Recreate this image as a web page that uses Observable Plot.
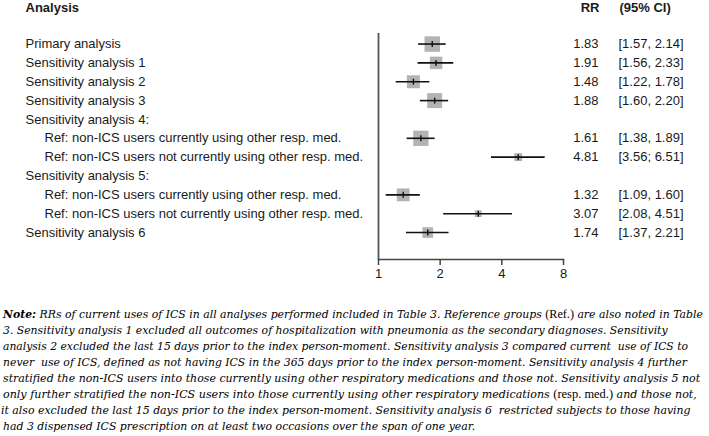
<!DOCTYPE html>
<html><head><meta charset="utf-8">
<script src="https://cdn.jsdelivr.net/npm/d3@7"></script>
<script src="https://cdn.jsdelivr.net/npm/@observablehq/plot@0.6"></script>
<style>
body{margin:0;background:#fff;}
#chart svg{display:block}
</style></head><body><div id="chart"></div><script>
// ---- data ----
const labels = [
  "Primary analysis",
  "Sensitivity analysis 1",
  "Sensitivity analysis 2",
  "Sensitivity analysis 3",
  "Sensitivity analysis 4:",
  "Ref: non-ICS users currently using other resp. med.",
  "Ref: non-ICS users not currently using other resp. med.",
  "Sensitivity analysis 5:",
  "Ref: non-ICS users currently using other resp. med.",
  "Ref: non-ICS users not currently using other resp. med.",
  "Sensitivity analysis 6"
];
const rr    = [1.83, 1.91, 1.48, 1.88, null, 1.61, 4.81, null, 1.32, 3.07, 1.74];
const lower = [1.57, 1.56, 1.22, 1.60, null, 1.38, 3.56, null, 1.09, 2.08, 1.37];
const upper = [2.14, 2.33, 1.78, 2.20, null, 1.89, 6.51, null, 1.60, 4.51, 2.21];
const ciLabels = ["[1.57, 2.14]", "[1.56, 2.33]", "[1.22, 1.78]", "[1.60, 2.20]", "",
  "[1.38, 1.89]", "[3.56; 6.51]", "", "[1.09, 1.60]", "[2.08, 4.51]", "[1.37, 2.21]"];
const weights = [240, 156, 169, 225, null, 234, 62, null, 165, 45, 113];
const xTicks = [1, 2, 4, 8];
const headers = {analysis: "Analysis", rr: "RR", ci: "(95% CI)"};

const noteLines = [
  [["Note:", "b"], [" RRs of current uses of ICS in all analyses performed included in Table 3. Reference groups ", "i"], ["(Ref.)", "n"], [" are also noted in Table", "i"]],
  [["3. Sensitivity analysis 1 excluded all outcomes of hospitalization with pneumonia as the secondary diagnoses. Sensitivity", "i"]],
  [["analysis 2 excluded the last 15 days prior to the index person-moment. Sensitivity analysis 3 compared current  use of ICS to", "i"]],
  [["never  use of ICS, defined as not having ICS in the 365 days prior to the index person-moment. Sensitivity analysis 4 further", "i"]],
  [["stratified the non-ICS users into those currently using other respiratory medications and those not. Sensitivity analysis 5 not", "i"]],
  [["only further stratified the non-ICS users into those currently using other respiratory medications ", "i"], ["(resp. med.)", "n"], [" and those not,", "i"]],
  [["it also excluded the last 15 days prior to the index person-moment. Sensitivity analysis 6  restricted subjects to those having", "i"]],
  [["had 3 dispensed ICS prescription on at least two occasions over the span of one year.", "i"]]
];

// ---- build table ----
const rows = labels.map((label, i) => ({
  i, label, sub: label.startsWith("Ref:"),
  rr: rr[i], lo: lower[i], hi: upper[i], ci: ciLabels[i], w: weights[i]
}));
const est = rows.filter(d => d.rr != null);

const vbar = {draw(ctx, size) { const h = Math.sqrt(size / Math.PI); ctx.moveTo(0, -h); ctx.lineTo(0, h); }};
const ink = "#1a1a1a";

const plot = Plot.plot({
  width: 709, height: 290,
  marginLeft: 378, marginRight: 146, marginTop: 33, marginBottom: 31,
  style: {fontFamily: "'Liberation Sans', Arial, sans-serif", fontSize: "13px", color: ink, background: "#fff", overflow: "visible"},
  x: {type: "log", base: 2, domain: [1, 8]},
  y: {domain: [-0.56, 11.43], reverse: true, axis: null},
  r: {type: "sqrt", domain: [0, 256], range: [0, 16 / Math.sqrt(Math.PI)]},
  marks: [
    Plot.ruleX([1], {stroke: "#555", strokeWidth: 1.8}),
    Plot.frame({anchor: "bottom", stroke: "#444", strokeWidth: 1.5}),
    Plot.axisX({ticks: xTicks, tickFormat: d => String(d), tickSize: 6, tickPadding: 3, fontSize: 13, stroke: "#444", strokeWidth: 1.5, fill: ink}),
    Plot.dot(est, {x: "rr", y: "i", r: "w", symbol: "square", fill: "#b3b3b3", stroke: null}),
    Plot.ruleY(est, {y: "i", x1: "lo", x2: "hi", stroke: "#111", strokeWidth: 1.6}),
    Plot.dot(est, {x: "rr", y: "i", r: 3, symbol: vbar, stroke: "#111", strokeWidth: 1.4, fill: "none"}),
    Plot.text(rows.filter(d => !d.sub), {y: "i", text: "label", frameAnchor: "left", textAnchor: "start", dx: -353, fill: ink}),
    Plot.text(rows.filter(d => d.sub), {y: "i", text: "label", frameAnchor: "left", textAnchor: "start", dx: -334, fill: ink}),
    Plot.text(est, {y: "i", text: d => d.rr.toFixed(2), frameAnchor: "right", textAnchor: "end", dx: 35, fill: ink}),
    Plot.text(est, {y: "i", text: "ci", frameAnchor: "right", textAnchor: "start", dx: 55, fill: ink}),
    Plot.text([headers.analysis], {text: d => d, frameAnchor: "top-left", textAnchor: "start", lineAnchor: "middle", dx: -353, dy: -26, fontWeight: "bold", fill: ink}),
    Plot.text([headers.rr], {text: d => d, frameAnchor: "top-right", textAnchor: "end", lineAnchor: "middle", dx: 36, dy: -26, fontWeight: "bold", fill: ink}),
    Plot.text([headers.ci], {text: d => d, frameAnchor: "top-right", textAnchor: "start", lineAnchor: "middle", dx: 56, dy: -26, fontWeight: "bold", fill: ink})
  ]
});
document.getElementById("chart").append(plot);

// ---- note ----
const noteStart = [3, 3, 3, 3, 3, 3, 1, 3];
const noteEnd = [703, 668, 688, 687, 700, 697, 691, 475];
const note = d3.select("#chart").append("svg")
  .attr("width", 709).attr("height", 146)
  .style("font-family", "'DejaVu Serif', 'Liberation Serif', serif")
  .style("font-size", "11.6px");
noteLines.forEach((segs, k) => {
  const t = note.append("text").attr("fill", "#000").attr("xml:space", "preserve").style("white-space", "pre");
  segs.forEach(([s, st]) => {
    const ts = t.append("tspan").text(s)
      .attr("font-style", st === "n" ? "normal" : "italic")
      .attr("font-weight", st === "b" ? "bold" : "normal");
    if (st === "n") ts.attr("font-family", "'Liberation Serif', serif").attr("font-size", "13px");
  });
  const w = t.node().getComputedTextLength();
  const target = noteEnd[k] - noteStart[k];
  t.attr("transform", `translate(${noteStart[k]},${28 + 16 * k}) scale(${target / w},1)`);
});
</script></body></html>
